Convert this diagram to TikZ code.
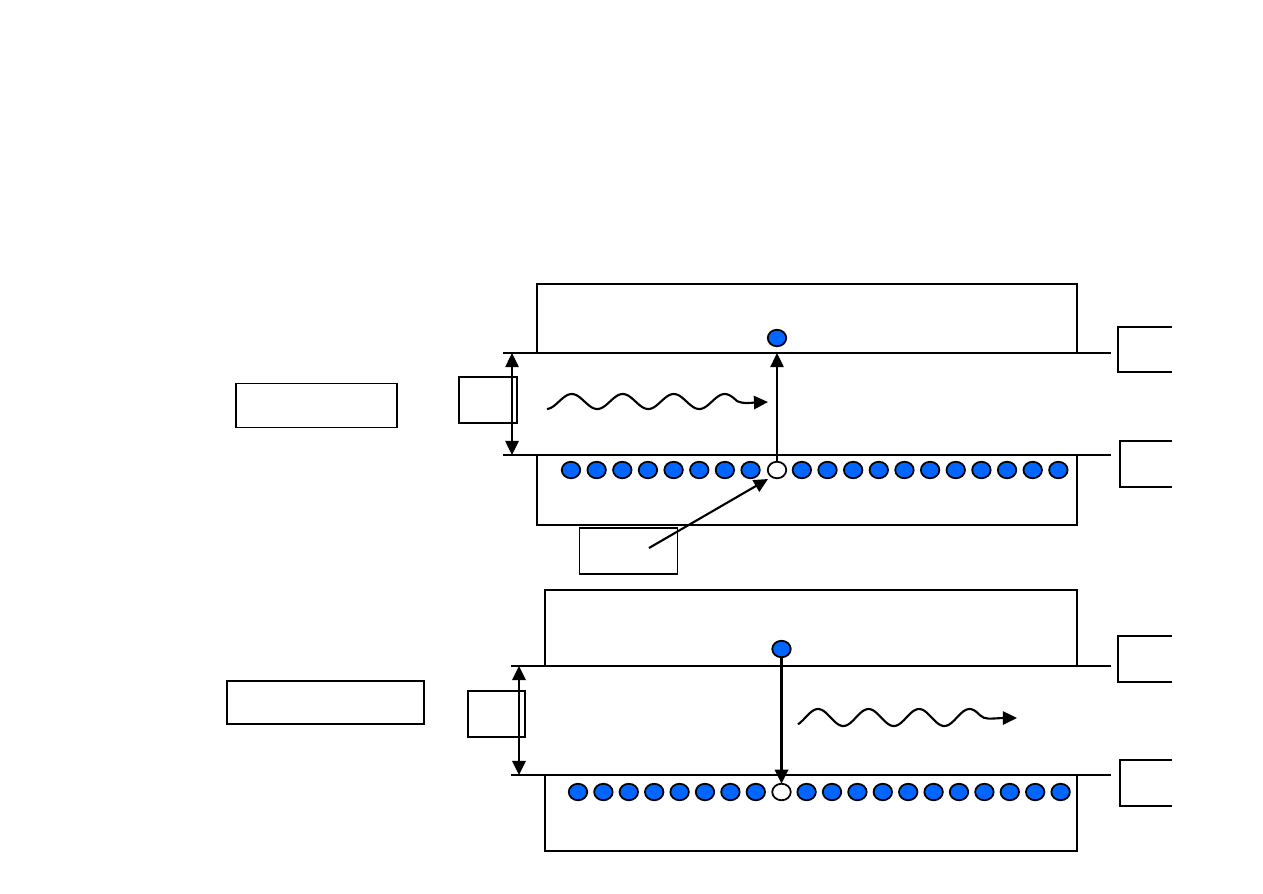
\documentclass[tikz,border=0pt]{standalone}
\usetikzlibrary{arrows.meta,shapes.geometric}
\definecolor{pblue}{RGB}{0,102,255}
\tikzset{
  ln/.style={line width=1.2pt},
  lnb/.style={line width=1.6pt},
  tipend/.style={-{Triangle[length=8pt,width=7.5pt]}},
  dtip/.style={{Triangle[length=8pt,width=7.5pt]}-{Triangle[length=8pt,width=7.5pt]}},
  pbox/.style args={#1/#2}{draw, line width=1pt, inner sep=0pt, outer sep=0pt,
    minimum width=#1*0.02cm, minimum height=#2*0.02cm},
  dot/.style={draw, ellipse, line width=1pt, fill=pblue, inner sep=0pt, outer sep=0pt,
    minimum width=0.37cm, minimum height=0.33cm},
  hole/.style={dot, fill=white},
}
\begin{document}
\begin{tikzpicture}[x=0.02cm,y=-0.02cm]
\useasboundingbox (0,0) rectangle (1263,893);

% ---------- top panel ----------
\draw[ln] (537,353) -- (537,284) -- (1077,284) -- (1077,353);
\draw[ln] (537,455) -- (537,525) -- (1077,525) -- (1077,455);
\coordinate (t1l) at (503,353); \coordinate (t1r) at (1111,353);
\coordinate (t2l) at (503,455); \coordinate (t2r) at (1111,455);
\draw[ln] (t1l) -- (t1r);
\draw[ln] (t2l) -- (t2r);

\node[pbox=161/44] (L1) at (316.5,405.5) {};
\node[pbox=58/46] (s1) at (488,400) {};
\coordinate (d1a) at (512,353); \coordinate (d1b) at (512,455);
\draw[ln,dtip] (d1a) -- (d1b);

\draw[ln] (1172,327) -- (1118,327) -- (1118,372) -- (1172,372);
\draw[ln] (1172,441) -- (1120,441) -- (1120,487) -- (1172,487);

\foreach \i in {0,...,7,9,10,...,19} \node[dot] (a\i) at ({571+25.65*\i},470) {};
\node[hole] (a8) at (777,470) {};
\node[dot] (e1) at (777,338) {};
\coordinate (up1) at (777,353);
\draw[ln,tipend] (a8.north) -- (up1);

\node[pbox=98/46] (b1) at (628.5,551) {};
\coordinate (b1s) at (649,548);
\coordinate (b1e) at (768,479);
\draw[ln,tipend] (b1s) -- (b1e);

\coordinate (w1e) at (768,402);
\draw[ln,tipend] plot[domain=547:737,samples=120,variable=\t] (\t,{401.5-7.5*sin(((\t-559)/51)*360)})
  .. controls (744,404) and (748,403) .. (755,402.5) -- (w1e);

% ---------- bottom panel ----------
\draw[lnb] (545,666) -- (545,590) -- (1077,590) -- (1077,666);
\draw[lnb] (545,775) -- (545,851) -- (1077,851) -- (1077,775);
\coordinate (u1l) at (511,666); \coordinate (u1r) at (1111,666);
\coordinate (u2l) at (511,775); \coordinate (u2r) at (1111,775);
\draw[lnb] (u1l) -- (u1r);
\draw[lnb] (u2l) -- (u2r);

\node[pbox=197/43] (L2) at (325.5,702.5) {};
\node[pbox=57/46] (s2) at (496.5,714) {};
\coordinate (d2a) at (519,666); \coordinate (d2b) at (519,775);
\draw[lnb,dtip] (d2a) -- (d2b);

\draw[lnb] (1172,636) -- (1118,636) -- (1118,682) -- (1172,682);
\draw[lnb] (1172,760) -- (1120,760) -- (1120,806) -- (1172,806);

\foreach \i in {0,...,7,9,10,...,19} \node[dot] (c\i) at ({578+25.4*\i},792) {};
\node[hole] (c8) at (781.5,792) {};
\node[dot] (e2) at (781.5,649) {};
\draw[lnb,tipend] (e2.south) -- (c8.north);

\coordinate (w2e) at (1017,718);
\draw[ln,tipend] plot[domain=798:980,samples=120,variable=\t] (\t,{717.5-8.5*sin(((\t-805.4)/50.5)*360)})
  .. controls (985,720) and (990,718.5) .. (1003,718) -- (w2e);
\end{tikzpicture}
\end{document}
